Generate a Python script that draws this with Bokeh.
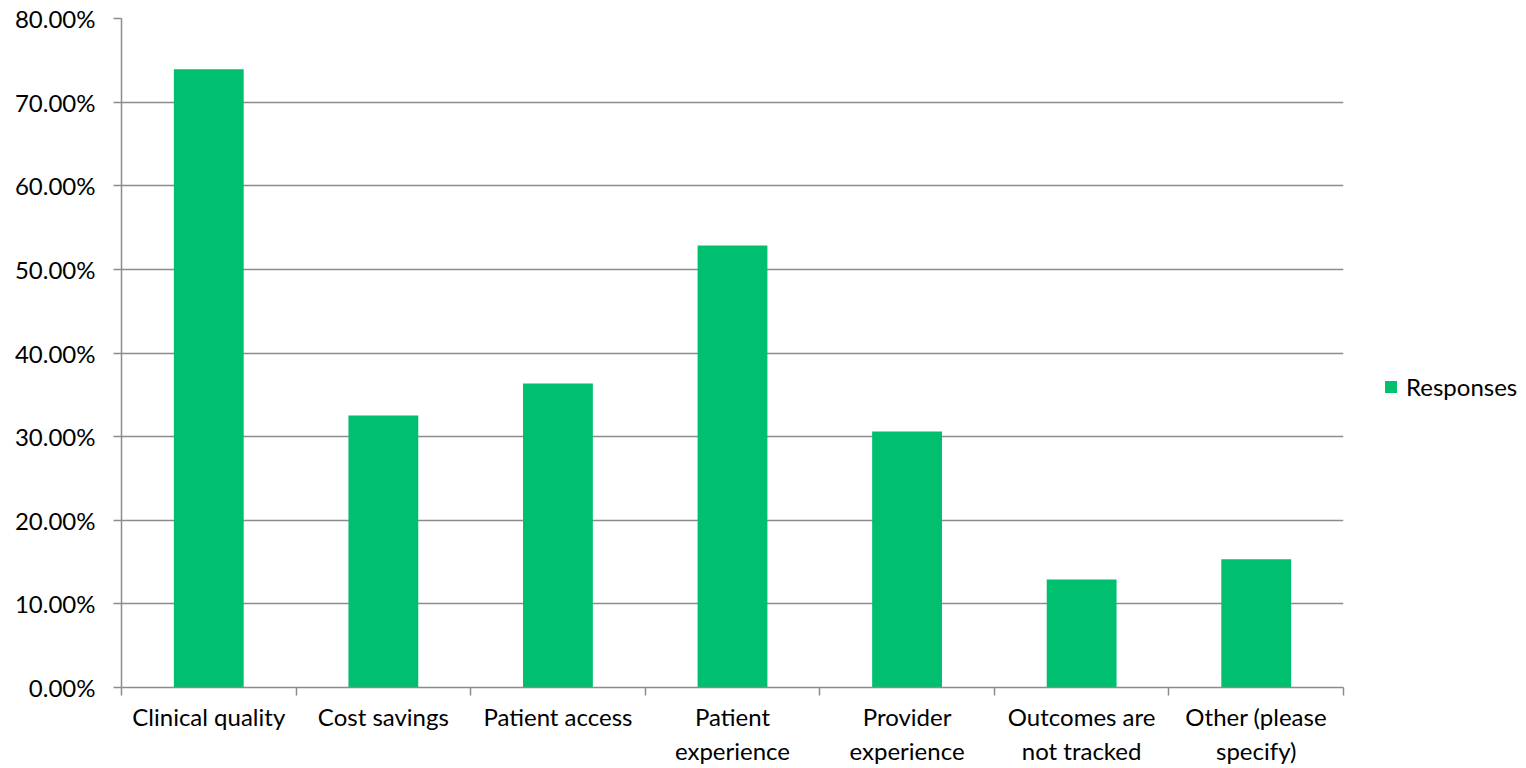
from bokeh.plotting import figure
from bokeh.layouts import row
from bokeh.models import FixedTicker, NumeralTickFormatter, Legend, LegendItem, Range1d
from bokeh.embed import file_html
from bokeh.resources import INLINE

categories = ["Clinical quality", "Cost savings", "Patient access", "Patient\nexperience",
              "Provider\nexperience", "Outcomes are\nnot tracked", "Other (please\nspecify)"]
responses = [0.7394, 0.3253, 0.3635, 0.5285, 0.3060, 0.1290, 0.1535]
y_ticks = [0.0, 0.1, 0.2, 0.3, 0.4, 0.5, 0.6, 0.7, 0.8]
series_name = "Responses"

FONT = "Lato"
FONT_SIZE = "24px"
GREEN = "#00BF6F"
GRID = "#8C8C8C"

centers = [i + 0.5 for i in range(len(categories))]

p = figure(width=1350, height=768, output_backend="svg", toolbar_location=None,
           x_range=Range1d(0, len(categories)), y_range=Range1d(0, 0.8),
           min_border_left=121, min_border_right=7, min_border_top=18, min_border_bottom=81)
p.outline_line_color = None
p.background_fill_color = "white"
p.border_fill_color = "white"

p.vbar(x=centers, top=responses, width=0.4, color=GREEN, line_color=None)

# y axis: percentage ticks with horizontal gridlines
p.yaxis.ticker = FixedTicker(ticks=y_ticks)
p.yaxis.formatter = NumeralTickFormatter(format="0.00%")
p.yaxis.axis_line_color = GRID
p.yaxis.axis_line_width = 1.5
p.yaxis.major_tick_line_color = GRID
p.yaxis.major_tick_line_width = 1.5
p.yaxis.major_tick_in = 0
p.yaxis.major_tick_out = 8
p.yaxis.minor_tick_line_color = None
p.yaxis.major_label_standoff = 18
p.yaxis.major_label_text_font = FONT
p.yaxis.major_label_text_font_size = FONT_SIZE
p.yaxis.major_label_text_color = "black"

p.ygrid.ticker = FixedTicker(ticks=y_ticks)
p.ygrid.grid_line_color = GRID
p.ygrid.grid_line_width = 1.5
p.xgrid.grid_line_color = None

# x axis: labels at category centres, tick marks at category boundaries
p.xaxis.ticker = FixedTicker(ticks=centers, minor_ticks=list(range(len(categories) + 1)))
p.xaxis.major_label_overrides = {c: lab for c, lab in zip(centers, categories)}
p.xaxis.axis_line_color = GRID
p.xaxis.axis_line_width = 1.5
p.xaxis.major_tick_line_color = None
p.xaxis.major_tick_out = 0
p.xaxis.major_tick_in = 0
p.xaxis.minor_tick_line_color = GRID
p.xaxis.minor_tick_line_width = 1.5
p.xaxis.minor_tick_in = 0
p.xaxis.minor_tick_out = 8
p.xaxis.major_label_standoff = 6
p.xaxis.major_label_text_font = FONT
p.xaxis.major_label_text_font_size = FONT_SIZE
p.xaxis.major_label_text_color = "black"

# side panel holding the series legend
lp = figure(width=176, height=768, output_backend="svg", toolbar_location=None,
            x_range=Range1d(0, 1), y_range=Range1d(0, 1),
            min_border_left=0, min_border_right=0, min_border_top=0, min_border_bottom=0)
lp.axis.visible = False
lp.grid.grid_line_color = None
lp.outline_line_color = None
lp.background_fill_color = "white"
lp.border_fill_color = "white"
# zero-height bar: only serves as the legend key
key = lp.vbar(x=[0.5], top=[0.0], width=0.4, color=GREEN, line_color=None)

legend = Legend(items=[LegendItem(label=series_name, renderers=[key])],
                location=(33, 286), border_line_color=None, background_fill_alpha=0,
                label_text_font=FONT, label_text_font_size=FONT_SIZE,
                label_text_color="black",
                glyph_width=15, glyph_height=15, label_standoff=8,
                margin=0, padding=5)
lp.add_layout(legend)

layout = row(p, lp)
open("out.html", "w").write(file_html(layout, INLINE))
